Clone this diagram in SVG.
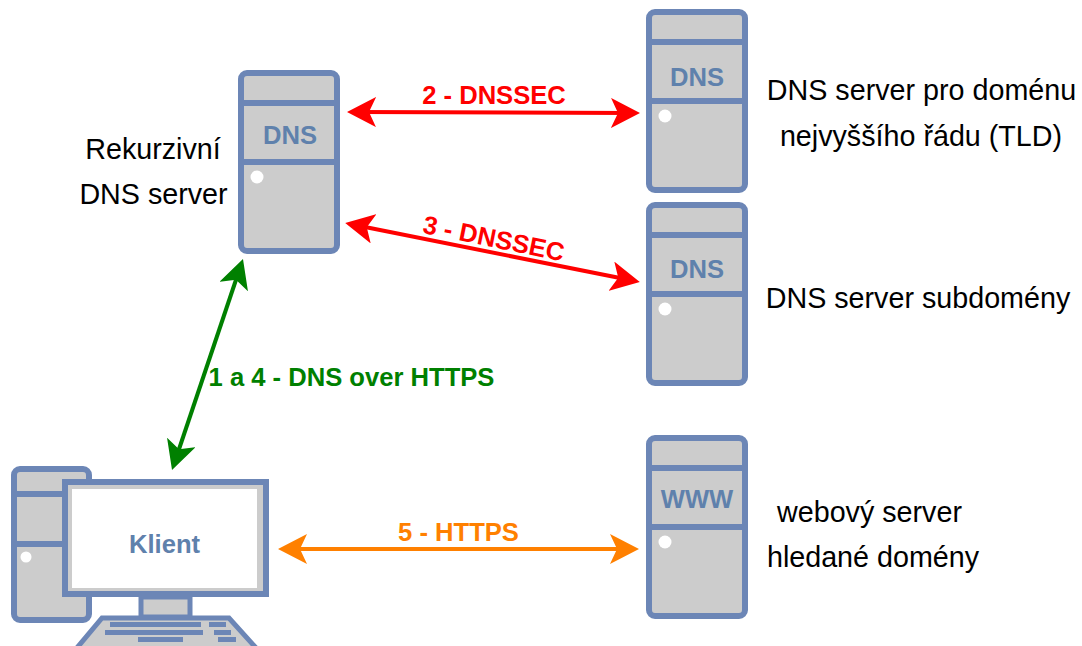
<svg xmlns="http://www.w3.org/2000/svg" width="1082" height="646" viewBox="0 0 1082 646">
<style>
.b{fill:#6c86b6}
.c{fill:#cccccc;stroke:#6c86b6;stroke-width:6}
.l{stroke:#6c86b6;stroke-width:6;fill:none}
.n{font:bold 25.6px "Liberation Sans",Arial,sans-serif;fill:#5f81ac;text-anchor:middle}
.t{font:28.7px "Liberation Sans",Arial,sans-serif;fill:#000;text-anchor:middle}
.a{font:bold 25.6px "Liberation Sans",Arial,sans-serif;text-anchor:middle}
.w{fill:#fff}
</style>
<defs>
<g id="srv">
<rect class="c" x="3" y="3" width="96" height="178" rx="6"/>
<path class="l" d="M3 33H99M3 92H99"/>
<circle class="w" cx="19" cy="107" r="6.5"/>
</g>
<marker id="r" markerUnits="userSpaceOnUse" markerWidth="30" markerHeight="30" refX="19" refY="15" orient="auto-start-reverse" viewBox="0 0 30 30"><path d="M0 0L29 15L0 30L7 15Z" fill="#ff0000"/></marker>
<marker id="g" markerUnits="userSpaceOnUse" markerWidth="30" markerHeight="30" refX="19" refY="15" orient="auto-start-reverse" viewBox="0 0 30 30"><path d="M0 0L29 15L0 30L7 15Z" fill="#008000"/></marker>
<marker id="o" markerUnits="userSpaceOnUse" markerWidth="30" markerHeight="30" refX="19" refY="15" orient="auto-start-reverse" viewBox="0 0 30 30"><path d="M0 0L29 15L0 30L7 15Z" fill="#ff8000"/></marker>
</defs>
<rect width="1082" height="646" fill="#fff"/>
<g id="recursive">
<use href="#srv" x="238" y="70"/>
<text class="n" x="290" y="144">DNS</text>
<text class="t" x="153" y="159">Rekurzivní</text>
<text class="t" x="153.500" y="204">DNS server</text>
</g>
<g id="tld">
<use href="#srv" x="646" y="9"/>
<text class="n" x="697" y="86">DNS</text>
<text class="t" x="921.500" y="99.500">DNS server pro doménu</text>
<text class="t" x="921" y="145.500">nejvyššího řádu (TLD)</text>
</g>
<g id="sub">
<use href="#srv" x="646" y="202"/>
<text class="n" x="697" y="278">DNS</text>
<text class="t" x="918" y="307.500">DNS server subdomény</text>
</g>
<g id="www">
<use href="#srv" x="646" y="435"/>
<text class="n" x="697" y="508">WWW</text>
<text class="t" x="869.500" y="521.500">webový server</text>
<text class="t" x="873" y="566.500">hledané domény</text>
</g>
<g id="client">
<rect class="c" x="14" y="469" width="75" height="151" rx="6"/>
<path class="l" d="M15 494H64M15 544H64"/>
<circle class="w" cx="26" cy="557" r="5.500"/>
<rect x="65" y="482" width="201" height="112" fill="#cccccc" stroke="#6c86b6" stroke-width="6"/>
<rect class="w" x="72" y="489" width="185" height="99"/>
<rect x="141" y="597" width="49" height="20" fill="#cccccc" stroke="#6c86b6" stroke-width="5"/>
<path d="M102 618H229L257 649H76Z" fill="#cccccc" stroke="#6c86b6" stroke-width="5"/>
<path class="b" d="M110 622H201V627H110ZM209 622H226V627H209ZM105 630H203V635H105ZM214 630H231V635H214ZM138 637H183V642H138ZM218 637H236V642H218Z"/>
<text class="n" x="164.500" y="553">Klient</text>
</g>
<g id="connectors" fill="none" stroke-width="4">
<path d="M357 112L630 113" stroke="#ff0000" marker-start="url(#r)" marker-end="url(#r)"/>
<path d="M355 225L630 280" stroke="#ff0000" marker-start="url(#r)" marker-end="url(#r)"/>
<path d="M239.800 268.500L175.200 460.500" stroke="#008000" marker-start="url(#g)" marker-end="url(#g)"/>
<path d="M288 549L629 549" stroke="#ff8000" marker-start="url(#o)" marker-end="url(#o)"/>
</g>
<g id="labels">
<text class="a" x="494" y="104" fill="#ff0000">2 - DNSSEC</text>
<text class="a" transform="translate(492 247) rotate(11.500)" fill="#ff0000">3 - DNSSEC</text>
<text class="a" x="351.500" y="386" fill="#008000">1 a 4 - DNS over HTTPS</text>
<text class="a" x="458.500" y="541" fill="#ff8000">5 - HTTPS</text>
</g>
</svg>
